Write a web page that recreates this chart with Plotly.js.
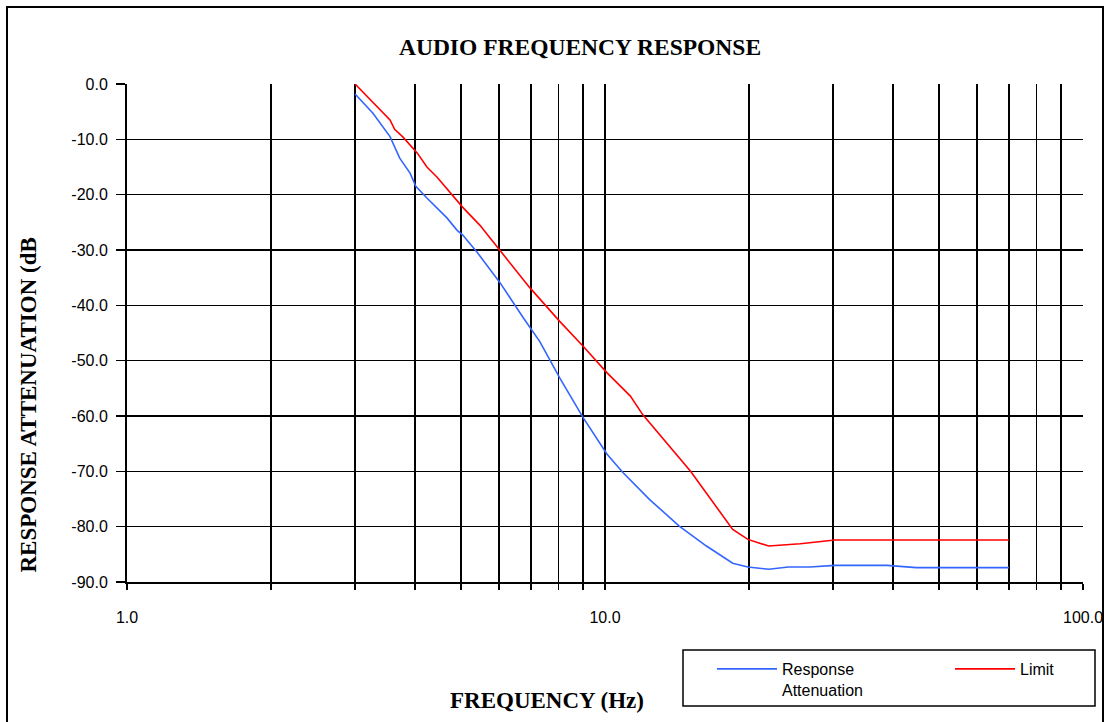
<!DOCTYPE html>
<html>
<head>
<meta charset="utf-8">
<script src="https://cdn.plot.ly/plotly-3.0.1.min.js"></script>
<style>
html,body{margin:0;padding:0;background:#fff;}
#chart{width:1112px;height:722px;}
</style>
</head>
<body>
<div id="chart"></div>
<script>
// ---- data ----
var respFreq = [3, 3.27, 3.55, 3.72, 3.91, 4.02, 4.24, 4.67, 4.9, 5.04, 5.4, 6.03, 6.74, 7.3, 8.04, 9.0, 10.1, 10.9, 12.4, 14.3, 16.3, 18.5, 19.9, 22, 24.2, 26.8, 30.3, 38.9, 44.8, 70];
var respDb   = [-1.8, -5.3, -9.5, -13.4, -16.1, -18.5, -20.6, -24.2, -26.4, -27.3, -30.4, -35.9, -42.2, -46.5, -53.1, -60.3, -66.9, -70.2, -75.1, -79.9, -83.5, -86.6, -87.3, -87.7, -87.3, -87.3, -87.0, -87.0, -87.4, -87.4];
var limitFreq = [3, 3.55, 3.63, 3.78, 4.05, 4.24, 4.45, 4.8, 5.04, 5.47, 6.03, 6.96, 8.04, 9.0, 10.1, 11.3, 12.0, 15.1, 18.5, 19.9, 22.0, 25.6, 30.3, 70];
var limitDb   = [0, -6.5, -8.2, -9.6, -12.5, -15, -16.8, -20.1, -22.3, -25.5, -30.1, -36.8, -42.9, -47.4, -52.2, -56.4, -59.8, -70.0, -80.5, -82.3, -83.5, -83.1, -82.4, -82.4];
var xTickVals = [1,2,3,4,5,6,7,8,9,10,20,30,40,50,60,70,80,90,100];
var xTickText = ['1.0','','','','','','','','','10.0','','','','','','','','','100.0'];
var yTickVals = [0,-10,-20,-30,-40,-50,-60,-70,-80,-90];
var yTickText = ['0.0','-10.0','-20.0','-30.0','-40.0','-50.0','-60.0','-70.0','-80.0','-90.0'];
var seriesNames = ['Response<br>Attenuation', 'Limit'];
var chartTitle = 'AUDIO FREQUENCY RESPONSE';
var xTitle = 'FREQUENCY (Hz)';
var yTitle = 'RESPONSE ATTENUATION (dB';

// ---- layout geometry (pixels) ----
var W = 1112, H = 722;
var L = 127, R = 1083, T = 84, B = 582;
var pw = R - L, ph = B - T;
function px2x(p){ return (p - L) / pw; }
function py2y(p){ return (B - p) / ph; }

var serif = {family: 'Liberation Serif, Times New Roman, serif', size: 23, color: '#000', weight: 'bold'};
var titleFont = {family: 'Liberation Serif, Times New Roman, serif', size: 23.5, color: '#000', weight: 'bold'};
var sans = {family: 'Liberation Sans, Arial, sans-serif', size: 16, color: '#000'};

var traces = [
  {x: respFreq, y: respDb, type: 'scatter', mode: 'lines', name: seriesNames[0],
   line: {color: '#3366ff', width: 1.6}},
  {x: limitFreq, y: limitDb, type: 'scatter', mode: 'lines', name: seriesNames[1],
   line: {color: '#ff0000', width: 1.6}}
];

var layout = {
  width: W, height: H,
  margin: {l: L, r: W - R, t: T, b: H - B, pad: 0, autoexpand: false},
  paper_bgcolor: '#fff', plot_bgcolor: '#fff',
  showlegend: true,
  title: {text: chartTitle, font: titleFont, xref: 'container', yref: 'container',
          x: 580 / W, xanchor: 'center', y: 1 - 47 / H, yanchor: 'middle'},
  xaxis: {
    type: 'log', range: [0, 2], tickmode: 'array', tickvals: xTickVals, ticktext: xTickText,
    showgrid: true, gridcolor: '#000', gridwidth: 1.5,
    showline: true, linecolor: '#000', linewidth: 2, mirror: false,
    ticks: 'outside', ticklen: 6, tickwidth: 1.5, tickcolor: '#000',
    tickfont: sans, ticklabelstandoff: 14, zeroline: false, automargin: false
  },
  yaxis: {
    range: [-90, 0], tickmode: 'array', tickvals: yTickVals, ticktext: yTickText,
    showgrid: true, gridcolor: '#000', gridwidth: 1.5,
    showline: true, linecolor: '#000', linewidth: 2,
    ticks: 'outside', ticklen: 9, tickwidth: 1.5, tickcolor: '#000',
    tickfont: sans, ticklabelstandoff: 5, zeroline: false, automargin: false
  },
  legend: {
    orientation: 'h', xref: 'paper', yref: 'paper',
    x: px2x(712), xanchor: 'left', y: py2y(652), yanchor: 'top',
    bgcolor: 'rgba(0,0,0,0)', borderwidth: 0,
    font: sans, valign: 'top', entrywidth: 163, entrywidthmode: 'pixels',
    itemwidth: 60
  },
  annotations: [
    {text: xTitle, xref: 'paper', yref: 'paper', x: px2x(547), y: py2y(700),
     xanchor: 'center', yanchor: 'middle', showarrow: false, font: serif},
    {text: yTitle, xref: 'paper', yref: 'paper', x: px2x(28), y: py2y(575),
     xanchor: 'center', yanchor: 'bottom', textangle: -90, showarrow: false, font: serif}
  ],
  shapes: [
    {type: 'rect', xref: 'paper', yref: 'paper', x0: px2x(7), x1: px2x(1103), y0: py2y(740), y1: py2y(7),
     line: {color: '#000', width: 2}, fillcolor: 'rgba(0,0,0,0)', layer: 'below'},
    {type: 'rect', xref: 'paper', yref: 'paper', x0: px2x(683), x1: px2x(1095), y0: py2y(706), y1: py2y(650),
     line: {color: '#000', width: 1.5}, fillcolor: 'rgba(0,0,0,0)', layer: 'above'}
  ]
};

Plotly.newPlot('chart', traces, layout, {displayModeBar: false, staticPlot: true});
</script>
</body>
</html>
